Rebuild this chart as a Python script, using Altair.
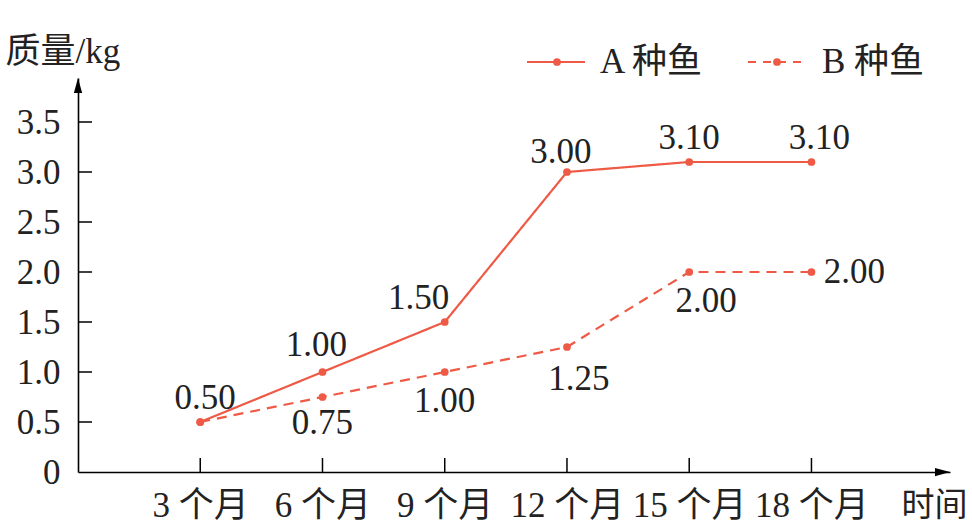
import altair as alt
import pandas as pd

# ---- data ----
months = [3, 6, 9, 12, 15, 18]
month_suffix = " 个月"
a_values = [0.50, 1.00, 1.50, 3.00, 3.10, 3.10]
b_values = [0.50, 0.75, 1.00, 1.25, 2.00, 2.00]
series_names = ["A 种鱼", "B 种鱼"]
y_ticks = [0.5, 1.0, 1.5, 2.0, 2.5, 3.0, 3.5]
y_title = "质量/kg"
x_title = "时间"

# ---- style ----
RED = "#ee5a45"
INK = "#222222"
FONT = "Liberation Serif, Noto Sans CJK SC"
FS = 35
W, H = 872, 394
X_DOMAIN = [0, 21.4]
Y_DOMAIN = [0, 3.94]

rows = []
for m, a, b in zip(months, a_values, b_values):
    rows.append({"month": m, "value": a, "series": series_names[0]})
    rows.append({"month": m, "value": b, "series": series_names[1]})
df = pd.DataFrame(rows)

xs = alt.Scale(domain=X_DOMAIN, nice=False, zero=False)
ys = alt.Scale(domain=Y_DOMAIN, nice=False, zero=False)

x_axis = alt.Axis(
    values=months, labelExpr=f"datum.value + '{month_suffix}'",
    ticks=False, tickSize=0, grid=False, domainColor="black", domainWidth=1.6,
    labelFont=FONT, labelFontSize=FS, labelColor=INK, labelBaseline="middle",
    labelPadding=33, labelFlush=False,
    titleFont=FONT, titleFontSize=33, titleFontWeight="normal",
    titleColor=INK, titleAnchor="start", titleAlign="left", titleBaseline="middle",
    titleX=823, titleY=33)
y_axis = alt.Axis(
    values=[0] + y_ticks,
    labelExpr="datum.value == 0 ? '0' : format(datum.value, '.1f')",
    ticks=False, tickSize=0, grid=False, domainColor="black", domainWidth=1.6,
    labelFont=FONT, labelFontSize=FS, labelColor=INK, labelBaseline="middle",
    labelPadding=18, labelFlush=False,
    titleFont=FONT, titleFontSize=FS, titleFontWeight="normal",
    titleColor=INK, titleAngle=0, titleAlign="left", titleBaseline="alphabetic",
    titleX=-73, titleY=-16)


def X(field):
    return alt.X(field, scale=xs, axis=x_axis, title=x_title)


def Y(field):
    return alt.Y(field, scale=ys, axis=y_axis, title=y_title)


base = alt.Chart(df)

lines = base.mark_line(color=RED, strokeWidth=2.2).encode(
    x=X("month:Q"),
    y=Y("value:Q"),
    strokeDash=alt.StrokeDash("series:N", scale=alt.Scale(domain=series_names, range=[[1, 0], [10, 7]]), legend=None),
    detail="series:N",
)

points = base.mark_circle(color=RED, size=60, opacity=1).encode(
    x=X("month:Q"),
    y=Y("value:Q"),
)

# label offsets (pixels) per series/month
offsets = {
    (series_names[0], 3): (5, -24),
    (series_names[0], 6): (-6, -27),
    (series_names[0], 9): (-26, -24),
    (series_names[0], 12): (-6, -20),
    (series_names[0], 15): (0, -24),
    (series_names[0], 18): (8, -24),
    (series_names[1], 6): (0, 26),
    (series_names[1], 9): (0, 29),
    (series_names[1], 12): (12, 32),
    (series_names[1], 15): (17, 29),
    (series_names[1], 18): (43, 0),
}
label_layers = []
for (s, m), (dx, dy) in offsets.items():
    label_layers.append(
        base.transform_filter(
            (alt.datum.series == s) & (alt.datum.month == m)
        ).transform_calculate(
            lab="format(datum.value, '.2f')"
        ).mark_text(font=FONT, fontSize=FS, color=INK, dx=dx, dy=dy,
                    align="center", baseline="middle").encode(
            x=X("month:Q"),
            y=Y("value:Q"),
            text="lab:N",
        )
    )

# inward tick marks
ytick_df = pd.DataFrame({"value": y_ticks})
ytick = alt.Chart(ytick_df).mark_rule(color="black", strokeWidth=1.5).encode(
    y=Y("value:Q"), x=alt.value(0), x2=alt.value(14))
xtick_df = pd.DataFrame({"month": months})
xtick = alt.Chart(xtick_df).mark_rule(color="black", strokeWidth=1.5).encode(
    x=X("month:Q"), y=alt.value(H), y2=alt.value(H - 14))

# arrow heads
arrow_x = alt.Chart(pd.DataFrame({"k": [0]})).mark_point(
    shape="M1,0 L-1,-0.55 L-1,0.55 Z", filled=True, color="black", opacity=1, size=225
).encode(x=alt.value(W - 7.5), y=alt.value(H))
arrow_y = alt.Chart(pd.DataFrame({"k": [0]})).mark_point(
    shape="M0,-1 L-0.55,1 L0.55,1 Z", filled=True, color="black", opacity=1, size=225
).encode(x=alt.value(0), y=alt.value(7.5))

# manual legend
LY = -16
one = pd.DataFrame({"k": [0]})
leg = [
    alt.Chart(one).mark_rule(color=RED, strokeWidth=2.2).encode(
        x=alt.value(449), x2=alt.value(507), y=alt.value(LY)),
    alt.Chart(one).mark_circle(color=RED, size=60, opacity=1).encode(
        x=alt.value(479), y=alt.value(LY)),
    alt.Chart(one).mark_text(
        font=FONT, fontSize=FS, color=INK, align="left", baseline="middle", text=series_names[0]
    ).encode(x=alt.value(522), y=alt.value(LY)),
    alt.Chart(one).mark_rule(color=RED, strokeWidth=2.2, strokeDash=[8, 7]).encode(
        x=alt.value(670), x2=alt.value(728), y=alt.value(LY)),
    alt.Chart(one).mark_circle(color=RED, size=60, opacity=1).encode(
        x=alt.value(699), y=alt.value(LY)),
    alt.Chart(one).mark_text(
        font=FONT, fontSize=FS, color=INK, align="left", baseline="middle", text=series_names[1]
    ).encode(x=alt.value(744), y=alt.value(LY)),
]

chart = alt.layer(lines, points, *label_layers, ytick, xtick, arrow_x, arrow_y, *leg).properties(
    width=W, height=H,
    autosize=alt.AutoSizeParams(type="none"),
    padding={"left": 78, "top": 78, "right": 22, "bottom": 57},
    background="white",
).configure_view(stroke=None)

chart.save("out.html", embed_options={"renderer": "svg", "actions": False})
